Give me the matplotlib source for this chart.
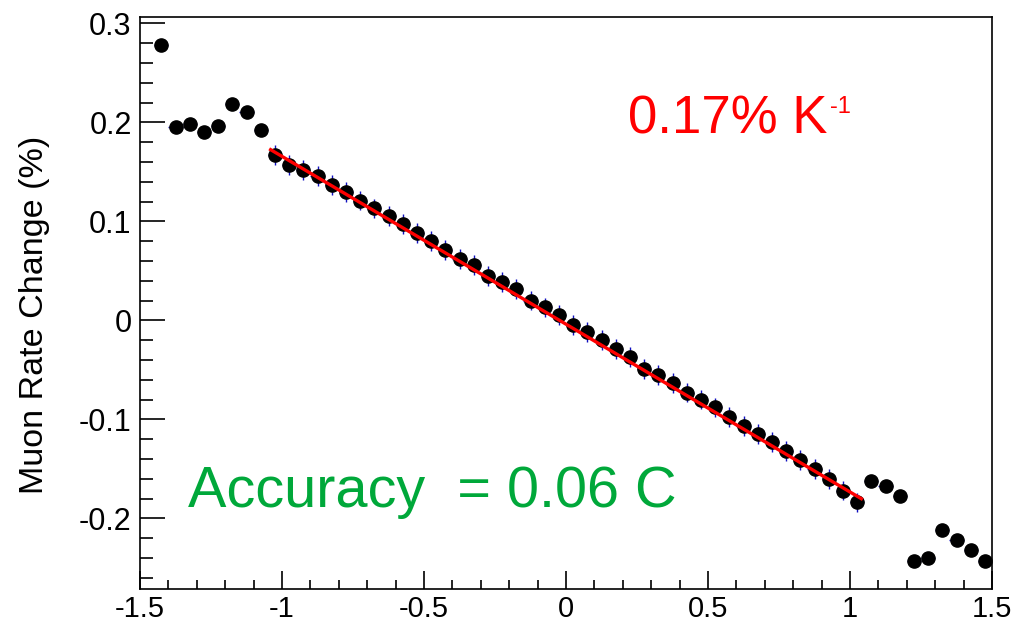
import numpy as np
import matplotlib
matplotlib.use('Agg')
import matplotlib.pyplot as plt
from matplotlib.ticker import MultipleLocator
from matplotlib import font_manager

# bin centres (temperature deviation, K) and muon rate change (%)
temp = [-1.425, -1.375, -1.325, -1.275, -1.225, -1.175, -1.125, -1.075,
        -1.025, -0.975, -0.925, -0.875, -0.825, -0.775, -0.725, -0.675,
        -0.625, -0.575, -0.525, -0.475, -0.425, -0.375, -0.325, -0.275,
        -0.225, -0.175, -0.125, -0.075, -0.025, 0.025, 0.075, 0.125,
        0.175, 0.225, 0.275, 0.325, 0.375, 0.425, 0.475, 0.525,
        0.575, 0.625, 0.675, 0.725, 0.775, 0.825, 0.875, 0.925,
        0.975, 1.025, 1.075, 1.125, 1.175, 1.225, 1.275, 1.325,
        1.375, 1.425, 1.475]
rate = [0.278, 0.195, 0.198, 0.190, 0.196, 0.219, 0.210, 0.192,
        0.167, 0.157, 0.152, 0.146, 0.137, 0.130, 0.121, 0.113,
        0.105, 0.097, 0.088, 0.080, 0.071, 0.062, 0.056, 0.045,
        0.039, 0.032, 0.020, 0.013, 0.005, -0.005, -0.012, -0.020,
        -0.029, -0.037, -0.049, -0.055, -0.063, -0.073, -0.080, -0.088,
        -0.098, -0.107, -0.115, -0.123, -0.132, -0.141, -0.150, -0.160,
        -0.172, -0.184, -0.162, -0.167, -0.177, -0.243, -0.240, -0.212,
        -0.222, -0.232, -0.243]
rate_err = [0.004] * 8 + [0.010] * 42 + [0.004] * 9
bin_half = 0.025

# linear fit drawn in red
fit_range = [-1.04, 1.04]
fit_slope = -0.1695
fit_offset = -0.0039

names = {f.name for f in font_manager.fontManager.ttflist}
font = 'Liberation Sans' if 'Liberation Sans' in names else 'DejaVu Sans'
plt.rcParams['font.family'] = [font, 'DejaVu Sans']

fig = plt.figure(figsize=(10.26, 6.24), dpi=100)
ax = fig.add_axes([140 / 1026, 1 - 589 / 624, (992 - 140) / 1026, (589 - 17) / 624])

ax.errorbar(temp, rate, xerr=bin_half, yerr=rate_err, fmt='none',
            ecolor='#1010c0', elinewidth=1.0, capsize=0, zorder=2)
ax.plot(temp, rate, 'o', color='black', markersize=9.5, zorder=3)

fx = np.array(fit_range)
ax.plot(fx, fit_offset + fit_slope * fx, color='#ff0000', lw=2.4, zorder=4)

ax.set_xlim(-1.5, 1.5)
ax.set_ylim(-0.2714, 0.3064)
ax.xaxis.set_minor_locator(MultipleLocator(0.1))
ax.yaxis.set_minor_locator(MultipleLocator(0.02))
ax.set_xticks([-1.5, -1, -0.5, 0, 0.5, 1, 1.5])
ax.set_xticklabels(['-1.5', '-1', '-0.5', '0', '0.5', '1', '1.5'])
ax.set_yticks([-0.2, -0.1, 0, 0.1, 0.2, 0.3])
ax.set_yticklabels(['-0.2', '-0.1', '0', '0.1', '0.2', '0.3'])

ax.tick_params(axis='both', which='both', direction='in', top=False, right=False,
               labelsize=22, width=1.2)
ax.tick_params(axis='y', which='major', length=18, pad=6)
ax.tick_params(axis='y', which='minor', length=9.5)
ax.tick_params(axis='x', which='major', length=13, pad=4, labelsize=21)
ax.tick_params(axis='x', which='minor', length=6.5)
for s in ax.spines.values():
    s.set_linewidth(1.2)

fig.text(35 / 1026, 1 - 315 / 624, 'Muon Rate Change (%)', rotation=90,
         ha='center', va='center', fontsize=24.5)

fig.text(628 / 1026, 1 - 133 / 624, '0.17% K', color='#ff0000', fontsize=38,
         ha='left', va='baseline')
fig.text(830 / 1026, 1 - 113 / 624, '-1', color='#ff0000', fontsize=17,
         ha='left', va='baseline')
fig.text(188 / 1026, 1 - 507 / 624, 'Accuracy  = 0.06 C', color='#00a83a',
         fontsize=41.5, ha='left', va='baseline')

fig.savefig('out.png', dpi=100)
